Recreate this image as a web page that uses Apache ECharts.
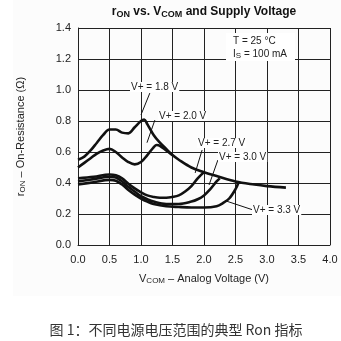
<!DOCTYPE html>
<html><head><meta charset="utf-8">
<script src="https://cdn.jsdelivr.net/npm/echarts@6/dist/echarts.min.js"></script>
<style>html,body{margin:0;padding:0;background:#fff}#c{width:341px;height:341px}</style>
</head><body><div id="c"></div>
<script>
// ---- data ----
const xTicks = ['0.0','0.5','1.0','1.5','2.0','2.5','3.0','3.5','4.0'];
const yTicks = ['0.0','0.2','0.4','0.6','0.8','1.0','1.2','1.4'];
const seriesNames = ['V+ = 1.8 V','V+ = 2.0 V','V+ = 2.7 V','V+ = 3.0 V','V+ = 3.3 V'];
const v18 = [0,0.1,0.2,0.3,0.4,0.5,0.6,0.7,0.8,0.9,1.0,1.05,1.1,1.2,1.3,1.4,1.5,1.6,1.8,2.0,2.2,2.5,2.8,3.0,3.3];
const r18 = [0.55,0.57,0.61,0.66,0.71,0.745,0.745,0.725,0.72,0.76,0.80,0.81,0.78,0.71,0.66,0.62,0.58,0.55,0.50,0.47,0.445,0.41,0.39,0.38,0.37];
const v20 = [0,0.1,0.2,0.3,0.4,0.5,0.6,0.7,0.8,0.9,1.0,1.1,1.2,1.25,1.3,1.4,1.5];
const r20 = [0.50,0.53,0.56,0.59,0.61,0.62,0.60,0.565,0.535,0.52,0.535,0.58,0.63,0.645,0.64,0.61,0.58];
const v27 = [0,0.25,0.5,0.6,0.7,0.8,0.9,1.0,1.1,1.2,1.3,1.4,1.5,1.6,1.7,1.8,1.9,2.0];
const r27 = [0.43,0.44,0.455,0.45,0.43,0.395,0.365,0.34,0.32,0.31,0.305,0.305,0.31,0.32,0.345,0.38,0.43,0.47];
const v30 = [0,0.25,0.5,0.6,0.7,0.8,0.9,1.0,1.1,1.2,1.4,1.6,1.8,1.9,2.0,2.1,2.2,2.25];
const r30 = [0.41,0.425,0.44,0.435,0.41,0.375,0.345,0.315,0.295,0.28,0.265,0.265,0.28,0.295,0.32,0.36,0.41,0.43];
const v33 = [0,0.25,0.5,0.6,0.7,0.8,0.9,1.0,1.1,1.2,1.4,1.6,1.8,2.0,2.2,2.3,2.4,2.5,2.55];
const r33 = [0.39,0.405,0.42,0.415,0.39,0.355,0.325,0.3,0.28,0.265,0.25,0.245,0.242,0.242,0.25,0.27,0.3,0.36,0.405];
// arrow annotations: [fromV, fromR, toV, toR]
const arrows = [
  [1.14,0.98,1.0,0.84],
  [1.22,0.806,1.095,0.66],
  [1.97,0.613,1.86,0.465],
  [2.22,0.548,2.08,0.387],
  [2.78,0.226,2.35,0.284]
];
// ---- chart ----
const zip = (a,b)=>a.map((v,i)=>[v,b[i]]);
const allV = [v18,v20,v27,v30,v33];
const allR = [r18,r20,r27,r30,r33];
const FONT = '"Liberation Sans", Arial, sans-serif';
const chart = echarts.init(document.getElementById('c'), null, {renderer:'canvas'});
const series = allV.map((v,i)=>({
  type:'line', name:seriesNames[i], data:zip(v,allR[i]), smooth:0.35, showSymbol:false,
  lineStyle:{color:'#111', width:2.6}, z:3,
  markLine: {
    silent:true, symbol:['none','arrow'], symbolSize:[0,7],
    lineStyle:{color:'#111', width:1, type:'solid'},
    label:{show:false},
    data:[[{coord:[arrows[i][0],arrows[i][1]]},{coord:[arrows[i][2],arrows[i][3]]}]]
  }
}));
const labelPos = [[130,88],[158,117],[197,144],[218,158],[252,211]];
const graphics = [
  {type:'rect', shape:{x:13,y:0,width:328,height:296}, style:{fill:'#fcfcfc'}, z:-10, silent:true},
  {type:'text', x:204, y:12, style:{
    text:'{n|r}{s|ON}{n| vs. V}{s|COM}{n| and Supply Voltage}',
    align:'center', verticalAlign:'middle',
    rich:{n:{font:'bold 12px '+FONT, fill:'#111'}, s:{font:'bold 9px '+FONT, fill:'#111', padding:[6,0,0,0]}},
  }},
  {type:'rect', shape:{x:226,y:33,width:69,height:28}, style:{fill:'#fff'}, z:10},
  {type:'text', x:233, y:36, z:11, style:{text:'T = 25 °C', font:'10px '+FONT, fill:'#222'}},
  {type:'text', x:233, y:48, z:11, style:{text:'{n|I}{s|S}{n| = 100 mA}', rich:{n:{font:'10px '+FONT, fill:'#222'}, s:{font:'8px '+FONT, fill:'#222', padding:[4,0,0,0]}}}},
  {type:'text', x:176, y:330, style:{text:'图 1：不同电源电压范围的典型 Ron 指标', align:'center', verticalAlign:'middle', font:'14px "Noto Sans CJK SC", sans-serif', fill:'#333'}}
];
seriesNames.forEach((n,i)=>{
  graphics.push({type:'text', x:labelPos[i][0], y:labelPos[i][1]-6, z:12,
    style:{text:n, font:'10px '+FONT, fill:'#222', backgroundColor:'#fff', padding:[0,1]}});
});
chart.setOption({
  animation:false,
  backgroundColor:'#fff',
  grid:{left:78, top:28, right:11, bottom:96, containLabel:false},
  xAxis:{type:'value', min:0, max:4, interval:0.5,
    name:'{n|V}{s|COM}{n| – Analog Voltage (V)}', nameLocation:'middle', nameGap:28,
    nameTextStyle:{rich:{n:{fontSize:11, fontFamily:FONT, color:'#222'}, s:{fontSize:8, fontFamily:FONT, color:'#222', padding:[4,0,0,0]}}},
    axisLine:{show:true, lineStyle:{color:'#222', width:1}}, axisTick:{show:false},
    axisLabel:{fontSize:11, fontFamily:FONT, color:'#222', margin:9, formatter:(v)=>xTicks[Math.round(v/0.5)]},
    splitLine:{show:true, lineStyle:{color:'#222', width:1}}},
  yAxis:{type:'value', min:0, max:1.4, interval:0.2,
    name:'{n|r}{s|ON}{n| – On-Resistance (Ω)}', nameLocation:'middle', nameGap:51, nameRotate:90,
    nameTextStyle:{rich:{n:{fontSize:11, fontFamily:FONT, color:'#222'}, s:{fontSize:8, fontFamily:FONT, color:'#222', padding:[4,0,0,0]}}},
    axisLine:{show:true, lineStyle:{color:'#222', width:1}}, axisTick:{show:false},
    axisLabel:{fontSize:11, fontFamily:FONT, color:'#222', margin:7, formatter:(v)=>yTicks[Math.round(v/0.2)]},
    splitLine:{show:true, lineStyle:{color:'#222', width:1}}},
  series:series,
  graphic:graphics
});
</script></body></html>
